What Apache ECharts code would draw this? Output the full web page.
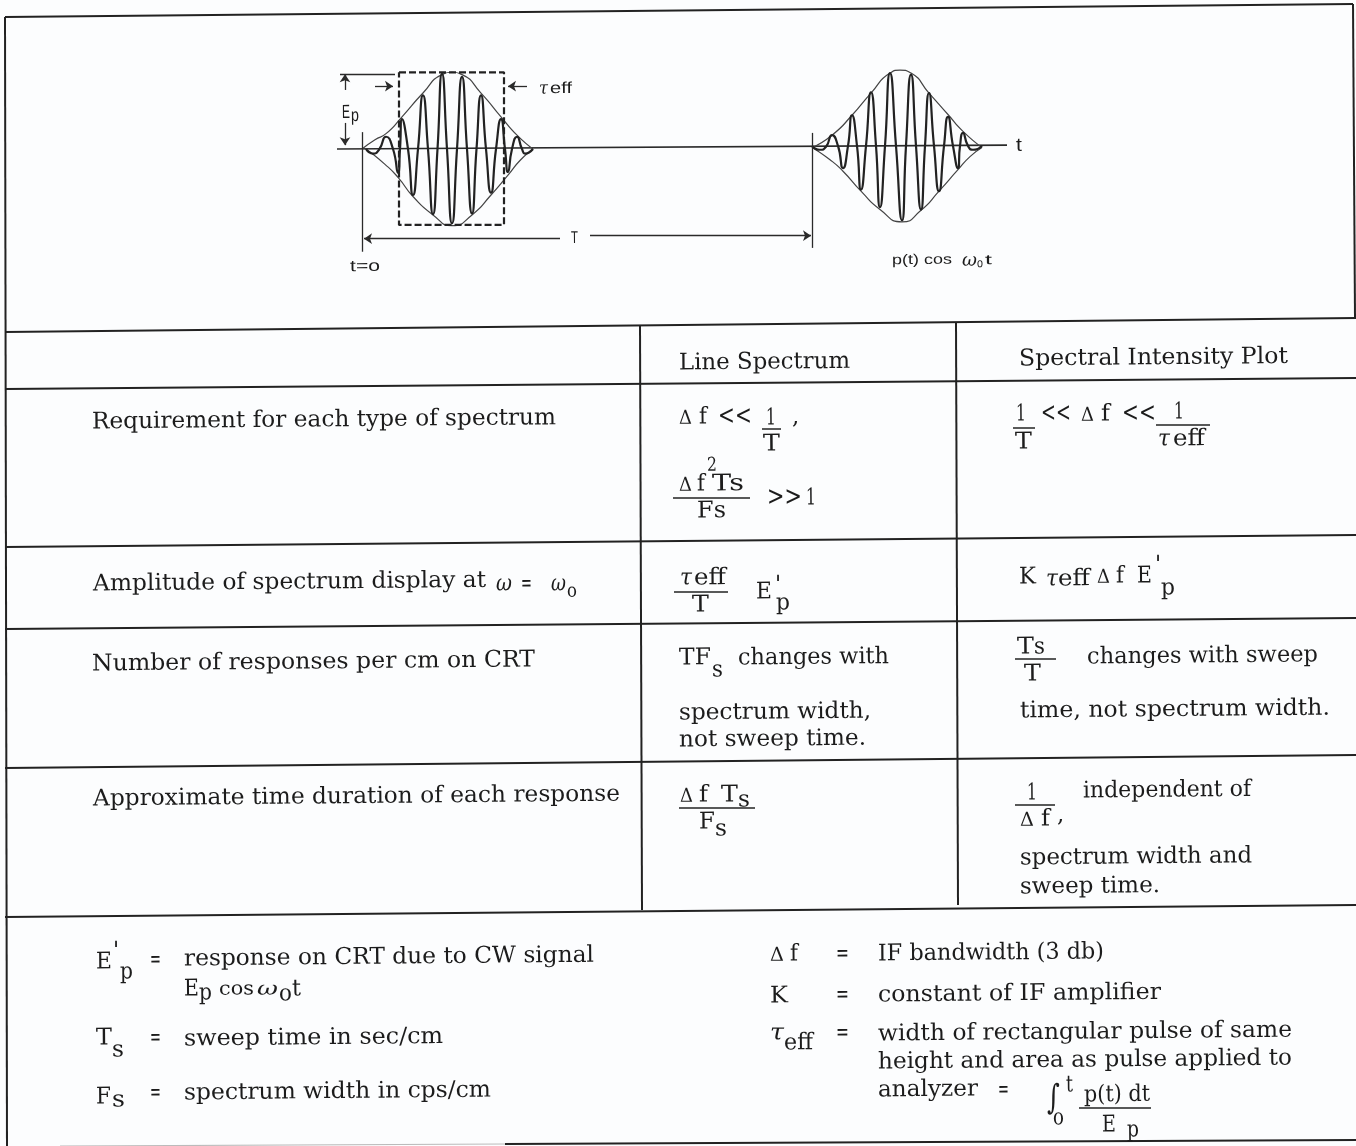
<!DOCTYPE html>
<html><head><meta charset="utf-8">
<style>html,body{margin:0;padding:0;background:#fff}#c{width:1356px;height:1146px}</style>
<script src="https://cdn.jsdelivr.net/npm/echarts@6/dist/echarts.min.js"></script>
</head><body><div id="c"></div>
<script>
// ---------- waveform values: [time, amplitude] (t=0 at first marker, Ep = 1)
const pulse1Carrier = [[4,0],[11,-.06],[17,-.01],[24,.16],[31,0],[36,-.31],[38,0],[40,.39],[46,0],[51,-.6],[56,0],[61,.7],[66,0],[71,-.85],[75.5,0],[80,.98],[85,0],[90,-.97],[95,0],[100,.94],[105,0],[110,-.84],[114.5,0],[119,.7],[124,0],[129,-.57],[134,0],[139,.39],[143,0],[146,-.3],[150,0],[155,.16],[160,0],[163,-.06],[171,0]];
const pulse1Upper = [[0,0],[13,.12],[24,.2],[40,.42],[61,.73],[80,.97],[90,1],[100,.97],[119,.73],[139,.42],[155,.18],[171,0]];
const pulse1Lower = [[4,0],[23,-.2],[36,-.37],[51,-.62],[71,-.86],[90,-1],[110,-.86],[129,-.6],[146,-.34],[158,-.15],[171,0]];
const pulse2Carrier = [[450,.04],[458,-.01],[464,.03],[470,.18],[476,.04],[481,-.25],[486,.04],[490,.44],[495,.04],[499,-.53],[504,.04],[509,.74],[514,.04],[518,-.76],[523,.04],[528,.99],[534,.04],[540,-.93],[544,.04],[549,.97],[554,.04],[559,-.79],[563,.04],[567,.73],[572,.04],[577,-.55],[582,.04],[586,.42],[591,.04],[596,-.25],[598,.04],[601,.21],[606,.04],[611,-.01],[620,.04]];
const pulse2Upper = [[450,.02],[470,.18],[490,.44],[509,.73],[528,.99],[538,1.03],[549,.99],[567,.73],[586,.45],[601,.23],[620,.02]];
const pulse2Lower = [[450,.02],[468,-.14],[481,-.29],[499,-.55],[518,-.79],[540,-.95],[559,-.8],[577,-.55],[596,-.27],[608,-.1],[620,.02]];
const baseline = [[-25,0],[645,.05]];
const tauRect = [[37,1],[142,1],[142,-.99],[37,-.99],[37,1]];
const plainMarks = [ [[0,.22],[0,-1.34]], [[450,.21],[450,-1.29]], [[-22,.975],[33,.975]] ];
const arrowMarks = [ [[-17,.77],[-17,.975]], [[-17,.34],[-17,.05]], [[13,.82],[31,.82]], [[165,.82],[146,.82]], [[198,-1.17],[2,-1.17]], [[228,-1.13],[449,-1.13]] ];

// ---------- table rules
const rules = [
 [5,17,1353,4],[5,17,7,1146],[1353,4,1355,318],
 [5,332,1356,318],[5,389,1356,378],[5,547,1356,535],[5,629,1356,618],[5,768,1356,755],[5,917,1356,905],
 [505,1144,1356,1140],
 [640,326,642,910],[956,322,958,905]
];
const faintRules = [[60,1146,505,1144]];
const fractionBars = [[762,429,781,429],[673,498,750,498],[1013,428,1035,428],[1156,425,1210,425],[674,592,728,592],[1015,659,1056,659],[679,808,755,808],[1015,805,1055,805],[1079,1108,1151,1108]];

// ---------- text: [string, x, baseline, x2 (fit width) or 0, size, flags]
const S = 23, M = 19, L = 27;
const rowLabels = [
 ['Requirement for each type of spectrum',92,427,556,S],
 ['Amplitude of spectrum display at',93,589,486,S],['ω',496,589,512,S,'i'],['=',521,589,532,S],['ω',551,589,566,S,'i'],['o',567,595,577,M],
 ['Number of responses per cm on CRT',92,669,535,S],
 ['Approximate time duration of each response',93,804,620,S]
];
const headers = [['Line Spectrum',679,368,850,S],['Spectral Intensity Plot',1019,364,1288,S]];
const cellTexts = [
 ['Δ',679,422,692,M],['f',699,422,707,S],['<<',718,423,752,L],['1',766,423,776,S],['T',763,449,780,S],[',',792,422,0,S],
 ['2',707,469,717,M],['Δ',679,489,692,M],['f',697,489,705,S],['Ts',712,489,744,S],['Fs',697,516,726,S],['>>',767,504,802,L],['1',806,503,816,S],
 ['1',1016,419,1026,S],['T',1015,447,1032,S],['<<',1041,420,1071,L],['Δ',1081,419,1094,M],['f',1101,419,1110,S],['<<',1122,420,1156,L],['1',1174,417,1184,S],['τ',1158,444,1170,S,'i'],['eff',1173,444,1205,S],
 ['τ',680,583,692,S,'i'],['eff',694,583,726,S],['T',692,610,709,S],['E',756,597,772,S],["'",775,590,0,S],['p',776,608,790,S],
 ['K',1019,582,1036,S],['τ',1046,584,1058,S,'i'],['eff',1058,584,1090,S],['Δ',1097,581,1110,M],['f',1116,581,1124,S],['E',1137,581,1152,S],["'",1155,570,0,S],['p',1161,593,1175,S],
 ['TF',679,663,711,S],['s',712,675,723,S],['changes with',738,663,889,S],['spectrum width,',679,718,871,S],['not sweep time.',679,745,866,S],
 ['T',1017,652,1034,S],['s',1034,652,1045,S],['T',1024,679,1041,S],['changes with sweep',1087,662,1318,S],['time, not spectrum width.',1020,716,1330,S],
 ['Δ',680,800,693,M],['f',699,800,708,S],['T',721,800,738,S],['s',738,805,750,S],['F',699,827,715,S],['s',715,834,727,S],
 ['1',1027,798,1037,S],['Δ',1020,824,1034,M],['f',1041,824,1050,S],[',',1057,820,0,S],['independent of',1083,796,1251,S],['spectrum width and',1020,863,1252,S],['sweep time.',1020,892,1160,S]
];
const legendTexts = [
 ['E',96,967,112,S],["'",113,956,0,S],['p',120,977,133,S],['=',150,965,161,S],['response on CRT due to CW signal',184,964,594,S],
 ['E',184,994,199,S],['p',199,998,212,S],['cos',219,993,254,M],['ω',257,993,278,M,'i'],['o',279,999,292,S],['t',292,994,301,S],
 ['T',96,1043,112,S],['s',112,1055,124,S],['=',150,1043,161,S],['sweep time in sec/cm',184,1044,443,S],
 ['F',96,1102,111,S],['s',112,1105,125,S],['=',150,1098,161,S],['spectrum width in cps/cm',184,1098,491,S],
 ['Δ',770,959,784,M],['f',790,959,798,S],['=',836,959,849,S],['IF bandwidth (3 db)',878,959,1104,S],
 ['K',770,1001,788,S],['=',836,1000,849,S],['constant of IF amplifier',878,1000,1161,S],
 ['τ',770,1038,784,S,'i'],['eff',784,1048,813,S],['=',836,1038,849,S],['width of rectangular pulse of same',878,1039,1292,S],
 ['height and area as pulse applied to',878,1067,1292,S],['analyzer',878,1095,978,S],['=',998,1095,1009,S],
 ['∫',1047,1108,1060,34],['t',1066,1090,1073,S],['o',1053,1123,1064,S],['p(t) dt',1084,1100,1150,S],['E',1102,1130,1116,S],['p',1127,1135,1139,S]
];
const waveLabels = [
 ['E',342,118,350,19,'s'],['p',351,121,359,18,'s'],['τ',539,92,548,18,'i'],['eff',550,93,572,16,'s'],
 ['t=o',350,271,380,16,'s'],['T',571,243,578,17,'s'],['t',1016,151,1022,19,'s'],
 ['p(t) cos',892,264,952,14,'s'],['ω',962,264,977,18,'i'],['o',977,267,983,13,'s'],['t',985,264,992,14,'s']
];

const ctx = document.createElement('canvas').getContext('2d');
function fontOf(size, flags){
  if (flags === 's') return size + 'px "Liberation Sans"';
  return (flags === 'i' ? 'italic ' : '') + size + 'px "DejaVu Serif"';
}
function textEl(e){
  const [s,x,b,x2,size,flags] = e;
  const font = fontOf(size,flags);
  ctx.font = font;
  const w = ctx.measureText(s).width;
  const scale = x2 ? (x2-x)/w : 1;
  const nudge = flags === 's' ? 1 : 3;
  return {type:'text', x:x, y:b-0.33*size+nudge, scaleX:scale, rotation:0.009, silent:true, z:10,
    style:{text:s, font:font, fill:'#1c1c1c', align:'left', verticalAlign:'middle'}};
}
const lineEl = (r,w,c)=>({type:'line', silent:true, z:5, shape:{x1:r[0],y1:r[1],x2:r[2],y2:r[3]}, style:{stroke:c||'#222', lineWidth:w}});

const waveLine = (name,data,w,color)=>({name,type:'line',data,smooth:0.6,symbol:'none',silent:true,animation:false,lineStyle:{width:w,color:color}});
const markSeries = (name,pairs,sym)=>({name,type:'line',data:[],symbol:'none',silent:true,animation:false,
  markLine:{silent:true,animation:false,symbol:sym,symbolSize:8,label:{show:false},lineStyle:{type:'solid',width:1.3,color:'#2a2a2a'},
    data:pairs.map(p=>[{coord:p[0]},{coord:p[1]}])}});

const chart = echarts.init(document.getElementById('c'),null,{renderer:'canvas',width:1356,height:1146});
chart.setOption({
  backgroundColor:'#fcfdfe',
  animation:false,
  grid:{left:332,top:34,width:700,height:230,containLabel:false},
  xAxis:{type:'value',min:-30,max:670,show:false},
  yAxis:{type:'value',min:-1.5,max:1.5,show:false},
  tooltip:{show:false},legend:{show:false},
  series:[
    {name:'baseline',type:'line',data:baseline,symbol:'none',silent:true,lineStyle:{width:1.7,color:'#2a2a2a'}},
    waveLine('pulse 1 upper envelope',pulse1Upper,1.2,'#444'),
    waveLine('pulse 1 lower envelope',pulse1Lower,1.2,'#444'),
    waveLine('pulse 1 carrier',pulse1Carrier,2.2,'#222'),
    waveLine('pulse 2 upper envelope',pulse2Upper,1.2,'#444'),
    waveLine('pulse 2 lower envelope',pulse2Lower,1.2,'#444'),
    waveLine('pulse 2 carrier',pulse2Carrier,2.2,'#222'),
    {name:'tau eff',type:'line',data:tauRect,symbol:'none',silent:true,lineStyle:{width:2.2,type:[7,3],color:'#222'}},
    markSeries('limits',plainMarks,['none','none']),
    markSeries('dimensions',arrowMarks,['none','arrow'])
  ],
  graphic:{elements:[].concat(
    rules.map(r=>lineEl(r,2)),
    faintRules.map(r=>lineEl(r,1.2,'#bbb')),
    fractionBars.map(r=>lineEl(r,1.5)),
    rowLabels.map(textEl),headers.map(textEl),cellTexts.map(textEl),legendTexts.map(textEl),waveLabels.map(textEl)
  )}
});
</script></body></html>
